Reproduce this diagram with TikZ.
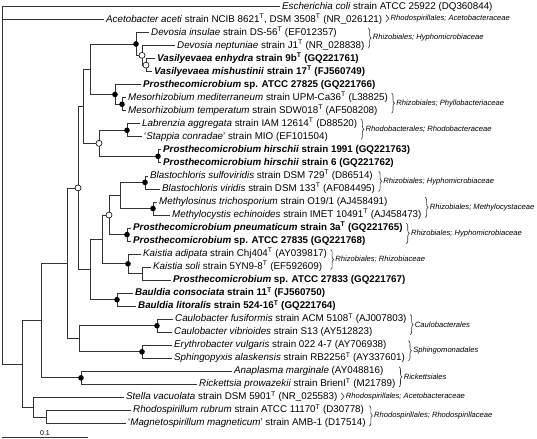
\documentclass[tikz,border=0pt]{standalone}
\usepackage{fontspec}
\setmainfont{Liberation Sans}
\usetikzlibrary{calc,decorations.pathreplacing}
\newcommand{\typ}{\textsuperscript{T}}
% one brace with its label, from the first to the last row of a group
\newcommand{\grp}[3]{%
  \draw[brc] let \p1=(#1.north east), \p2=(#2.base east), \n1={max(\x1,\x2)+1.5pt} in
    (\n1,\y1) -- (\n1,\y2) node[midway, grplab] {#3};}

\begin{document}
\begin{tikzpicture}[x=1pt, y=-13.03pt,
  br/.style={draw=black!80, line width=0.8pt},
  leaf/.style={anchor=west, inner xsep=2pt, inner ysep=0pt, text height=7pt, text depth=2pt,
    font=\fontsize{9.8}{11}\selectfont},
  brc/.style={draw=black!80, line width=0.6pt, decorate, decoration={brace, amplitude=3pt}},
  grplab/.style={right=4.5pt, inner sep=0pt, font=\fontsize{7.6}{8}\selectfont\itshape}]
\useasboundingbox (0,-0.5) rectangle (537,33.19);

% leaves, one row each
\node[leaf] (l0) at (280,0) {\textit{Escherichia coli} strain ATCC 25922 (DQ360844)};
\node[leaf] (l1) at (104,1) {\textit{Acetobacter aceti} strain NCIB 8621\typ, DSM 3508\typ{} (NR\_026121)};
\node[leaf] (l2) at (149,2) {\textit{Devosia insulae} strain DS-56\typ{} (EF012357)};
\node[leaf] (l3) at (175,3) {\textit{Devosia neptuniae} strain J1\typ{} (NR\_028838)};
\node[leaf] (l4) at (155,4) {\textbf{\textit{Vasilyevaea enhydra} strain 9b\typ{} (GQ221761)}};
\node[leaf] (l5) at (152,5) {\textbf{\textit{Vasilyevaea mishustinii} strain 17\typ{} (FJ560749)}};
\node[leaf] (l6) at (141,6) {\textbf{\textit{Prosthecomicrobium} sp. ATCC 27825 (GQ221766)}};
\node[leaf] (l7) at (126,7) {\textit{Mesorhizobium mediterraneum} strain UPM-Ca36\typ{} (L38825)};
\node[leaf] (l8) at (126,8) {\textit{Mesorhizobium temperatum} strain SDW018\typ{} (AF508208)};
\node[leaf] (l9) at (140,9) {\textit{Labrenzia aggregata} strain IAM 12614\typ{} (D88520)};
\node[leaf] (l10) at (142,10) {‘\textit{Stappia conradae}’ strain MIO (EF101504)};
\node[leaf] (l11) at (161,11) {\textbf{\textit{Prosthecomicrobium hirschii} strain 1991 (GQ221763)}};
\node[leaf] (l12) at (161,12) {\textbf{\textit{Prosthecomicrobium hirschii} strain 6 (GQ221762)}};
\node[leaf] (l13) at (148,13) {\textit{Blastochloris sulfoviridis} strain DSM 729\typ{} (D86514)};
\node[leaf] (l14) at (160,14) {\textit{Blastochloris viridis} strain DSM 133\typ{} (AF084495)};
\node[leaf] (l15) at (157,15) {\textit{Methylosinus trichosporium} strain O19/1 (AJ458491)};
\node[leaf] (l16) at (170,16) {\textit{Methylocystis echinoides} strain IMET 10491\typ{} (AJ458473)};
\node[leaf] (l17) at (131,17) {\textbf{\textit{Prosthecomicrobium pneumaticum} strain 3a\typ{} (GQ221765)}};
\node[leaf] (l18) at (131,18) {\textbf{\textit{Prosthecomicrobium} sp. ATCC 27835 (GQ221768)}};
\node[leaf] (l19) at (141,19) {\textit{Kaistia adipata} strain Chj404\typ{} (AY039817)};
\node[leaf] (l20) at (151,20) {\textit{Kaistia soli} strain 5YN9-8\typ{} (EF592609)};
\node[leaf] (l21) at (171,21) {\textbf{\textit{Prosthecomicrobium} sp. ATCC 27833 (GQ221767)}};
\node[leaf] (l22) at (133,22) {\textbf{\textit{Bauldia consociata} strain 11\typ{} (FJ560750)}};
\node[leaf] (l23) at (136,23) {\textbf{\textit{Bauldia litoralis} strain 524-16\typ{} (GQ221764)}};
\node[leaf] (l24) at (173,24) {\textit{Caulobacter fusiformis} strain ACM 5108\typ{} (AJ007803)};
\node[leaf] (l25) at (172,25) {\textit{Caulobacter vibrioides} strain S13 (AY512823)};
\node[leaf] (l26) at (172,26) {\textit{Erythrobacter vulgaris} strain 022 4-7 (AY706938)};
\node[leaf] (l27) at (172,27) {\textit{Sphingopyxis alaskensis} strain RB2256\typ{} (AY337601)};
\node[leaf] (l28) at (232,28) {\textit{Anaplasma marginale} (AY048816)};
\node[leaf] (l29) at (197,29) {\textit{Rickettsia prowazekii} strain BrienI\typ{} (M21789)};
\node[leaf] (l30) at (124,30) {\textit{Stella vacuolata} strain DSM 5901\typ{} (NR\_025583)};
\node[leaf] (l31) at (131,31) {\textit{Rhodospirillum rubrum} strain ATCC 11170\typ{} (D30778)};
\node[leaf] (l32) at (126,32) {‘\textit{Magnetospirillum magneticum}’ strain AMB-1 (D17514)};

% internal nodes (x in pt, y in rows)
\coordinate (root) at (2,13.714);
\coordinate (S) at (22,27.428);
\coordinate (T) at (33,30.75);
\coordinate (U) at (46,31.5);
\coordinate (P) at (41,24.105);
\coordinate (R) at (81,28.5);
\coordinate (Q) at (67,19.711);
\coordinate (N) at (79,25.5);
\coordinate (O1) at (157,24.5);
\coordinate (O2) at (142,26.5);
\coordinate (A) at (78,13.922);
\coordinate (B) at (83,7.656);
\coordinate (C) at (90,4.8125);
\coordinate (E) at (136,2.875);
\coordinate (G) at (142,3.75);
\coordinate (H) at (146,4.5);
\coordinate (F) at (115,6.75);
\coordinate (I) at (122,7.5);
\coordinate (D) at (99,10.5);
\coordinate (J) at (127,9.5);
\coordinate (K) at (158,11.5);
\coordinate (L) at (90,20.1875);
\coordinate (V) at (102,17.875);
\coordinate (W) at (109,16);
\coordinate (Z) at (120,14.5);
\coordinate (BB) at (145,13.5);
\coordinate (CC) at (153,15.5);
\coordinate (AA) at (127,17.5);
\coordinate (X) at (128,19.75);
\coordinate (Y) at (142,20.5);
\coordinate (M) at (117,22.5);

% branches
\foreach \a/\b in {root/l0.west, root/l1.west, root/S, S/P, S/T, T/l30.west, T/U,
    U/l31.west, U/l32.west, P/Q, P/R, R/l28.west, R/l29.west, Q/A, Q/N, N/O1, N/O2,
    O1/l24.west, O1/l25.west, O2/l26.west, O2/l27.west, A/B, A/L, B/C, B/D, C/E, C/F,
    E/l2.west, E/G, G/l3.west, G/H, H/l4.west, H/l5.west, F/l6.west, F/I, I/l7.west,
    I/l8.west, D/J, D/K, J/l9.west, J/l10.west, K/l11.west, K/l12.west, L/V, L/M,
    V/W, V/X, W/Z, W/AA, Z/BB, Z/CC, BB/l13.west, BB/l14.west, CC/l15.west,
    CC/l16.west, AA/l17.west, AA/l18.west, X/l19.west, X/Y, Y/l20.west, Y/l21.west,
    M/l22.west, M/l23.west}
  \draw[br] (\a) |- (\b);

% support marks
\foreach \n in {E, F, I, J, K, BB, CC, AA, X, M, O1, O2, R}
  \fill (\n) circle (2.8pt);
\foreach \n in {G, H, D, A, W}
  \filldraw[fill=white, line width=0.6pt] (\n) circle (3pt);

% groups
\grp{l1}{l1}{Rhodospirillales; Acetobacteraceae}
\grp{l2}{l3}{Rhizobiales; Hyphomicrobiaceae}
\grp{l7}{l8}{Rhizobiales; Phyllobacteriaceae}
\grp{l9}{l10}{Rhodobacterales; Rhodobacteraceae}
\grp{l13}{l14}{Rhizobiales; Hyphomicrobiaceae}
\grp{l15}{l16}{Rhizobiales; Methylocystaceae}
\grp{l17}{l18}{Rhizobiales; Hyphomicrobiaceae}
\grp{l19}{l20}{Rhizobiales; Rhizobiaceae}
\grp{l24}{l25}{Caulobacterales}
\grp{l26}{l27}{Sphingomonadales}
\grp{l28}{l29}{Rickettsiales}
\grp{l30}{l30}{Rhodospirillales; Acetobacteraceae}
\grp{l31}{l32}{Rhodospirillales; Rhodospirillaceae}

% scale bar
\coordinate (sb0) at (2,33.04);
\coordinate (sb1) at (88,33.04);
\draw[br] (sb0) -- node[above=1pt, inner sep=0pt, font=\fontsize{7}{8}\selectfont] {0.1} (sb1);
\end{tikzpicture}
\end{document}
